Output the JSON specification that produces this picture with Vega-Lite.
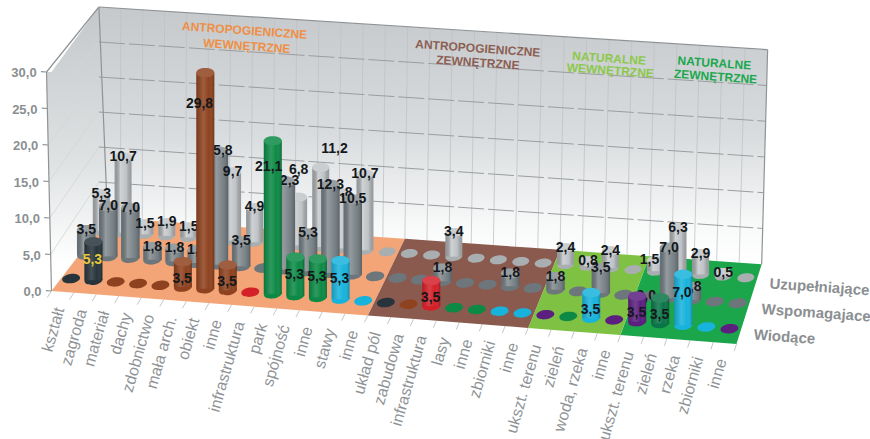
{
"$schema":"https://vega.github.io/schema/vega-lite/v6.json",
"width":870,"height":439,"padding":0,"autosize":"none","background":"#ffffff",
"config":{"view":{"stroke":null},"text":{"font":"Liberation Sans"}},
"datasets":{
"komorki":[
{"kat":"kształt","i":1,"rzad":"Wiodące","wartosc":0,"barwa":"grafit"},{"kat":"kształt","i":1,"rzad":"Wspomagajace","wartosc":3.5,"barwa":"szary"},{"kat":"kształt","i":1,"rzad":"Uzupełniające","wartosc":5.3,"barwa":"jasny"},
{"kat":"zagroda","i":2,"rzad":"Wiodące","wartosc":5.3,"barwa":"grafit"},{"kat":"zagroda","i":2,"rzad":"Wspomagajace","wartosc":7.0,"barwa":"szary"},{"kat":"zagroda","i":2,"rzad":"Uzupełniające","wartosc":10.7,"barwa":"jasny"},
{"kat":"materiał","i":3,"rzad":"Wiodące","wartosc":0,"barwa":"brąz"},{"kat":"materiał","i":3,"rzad":"Wspomagajace","wartosc":7.0,"barwa":"szary"},{"kat":"materiał","i":3,"rzad":"Uzupełniające","wartosc":1.5,"barwa":"jasny"},
{"kat":"dachy","i":4,"rzad":"Wiodące","wartosc":0,"barwa":"brąz"},{"kat":"dachy","i":4,"rzad":"Wspomagajace","wartosc":1.8,"barwa":"szary"},{"kat":"dachy","i":4,"rzad":"Uzupełniające","wartosc":1.9,"barwa":"jasny"},
{"kat":"zdobnictwo","i":5,"rzad":"Wiodące","wartosc":0,"barwa":"brąz"},{"kat":"zdobnictwo","i":5,"rzad":"Wspomagajace","wartosc":1.8,"barwa":"szary"},{"kat":"zdobnictwo","i":5,"rzad":"Uzupełniające","wartosc":1.5,"barwa":"jasny"},
{"kat":"mała arch.","i":6,"rzad":"Wiodące","wartosc":3.5,"barwa":"brąz"},{"kat":"mała arch.","i":6,"rzad":"Wspomagajace","wartosc":1.8,"barwa":"szary"},{"kat":"mała arch.","i":6,"rzad":"Uzupełniające","wartosc":0,"barwa":"jasny"},
{"kat":"obiekt","i":7,"rzad":"Wiodące","wartosc":29.8,"barwa":"brąz"},{"kat":"obiekt","i":7,"rzad":"Wspomagajace","wartosc":15.8,"barwa":"szary"},{"kat":"obiekt","i":7,"rzad":"Uzupełniające","wartosc":9.7,"barwa":"jasny"},
{"kat":"inne","i":8,"rzad":"Wiodące","wartosc":3.5,"barwa":"brąz"},{"kat":"inne","i":8,"rzad":"Wspomagajace","wartosc":3.5,"barwa":"szary"},{"kat":"inne","i":8,"rzad":"Uzupełniające","wartosc":4.9,"barwa":"jasny"},
{"kat":"infrastruktura","i":9,"rzad":"Wiodące","wartosc":0,"barwa":"czerwień"},{"kat":"infrastruktura","i":9,"rzad":"Wspomagajace","wartosc":0,"barwa":"szary"},{"kat":"infrastruktura","i":9,"rzad":"Uzupełniające","wartosc":0,"barwa":"jasny"},
{"kat":"park","i":10,"rzad":"Wiodące","wartosc":21.1,"barwa":"zieleń"},{"kat":"park","i":10,"rzad":"Wspomagajace","wartosc":12.3,"barwa":"szary"},{"kat":"park","i":10,"rzad":"Uzupełniające","wartosc":6.8,"barwa":"jasny"},
{"kat":"spójność","i":11,"rzad":"Wiodące","wartosc":5.3,"barwa":"zieleń"},{"kat":"spójność","i":11,"rzad":"Wspomagajace","wartosc":5.3,"barwa":"szary"},{"kat":"spójność","i":11,"rzad":"Uzupełniające","wartosc":11.2,"barwa":"jasny"},
{"kat":"inne","i":12,"rzad":"Wiodące","wartosc":5.3,"barwa":"zieleń"},{"kat":"inne","i":12,"rzad":"Wspomagajace","wartosc":12.3,"barwa":"szary"},{"kat":"inne","i":12,"rzad":"Uzupełniające","wartosc":7.8,"barwa":"jasny"},
{"kat":"stawy","i":13,"rzad":"Wiodące","wartosc":5.3,"barwa":"błękit"},{"kat":"stawy","i":13,"rzad":"Wspomagajace","wartosc":10.5,"barwa":"szary"},{"kat":"stawy","i":13,"rzad":"Uzupełniające","wartosc":10.7,"barwa":"jasny"},
{"kat":"inne","i":14,"rzad":"Wiodące","wartosc":0,"barwa":"błękit"},{"kat":"inne","i":14,"rzad":"Wspomagajace","wartosc":0,"barwa":"szary"},{"kat":"inne","i":14,"rzad":"Uzupełniające","wartosc":0,"barwa":"jasny"},
{"kat":"układ pól","i":15,"rzad":"Wiodące","wartosc":0,"barwa":"grafit"},{"kat":"układ pól","i":15,"rzad":"Wspomagajace","wartosc":0,"barwa":"szary"},{"kat":"układ pól","i":15,"rzad":"Uzupełniające","wartosc":0,"barwa":"jasny"},
{"kat":"zabudowa","i":16,"rzad":"Wiodące","wartosc":0,"barwa":"brąz"},{"kat":"zabudowa","i":16,"rzad":"Wspomagajace","wartosc":0,"barwa":"szary"},{"kat":"zabudowa","i":16,"rzad":"Uzupełniające","wartosc":0,"barwa":"jasny"},
{"kat":"infrastruktura","i":17,"rzad":"Wiodące","wartosc":3.5,"barwa":"czerwień"},{"kat":"infrastruktura","i":17,"rzad":"Wspomagajace","wartosc":1.8,"barwa":"szary"},{"kat":"infrastruktura","i":17,"rzad":"Uzupełniające","wartosc":3.4,"barwa":"jasny"},
{"kat":"lasy","i":18,"rzad":"Wiodące","wartosc":0,"barwa":"zieleń"},{"kat":"lasy","i":18,"rzad":"Wspomagajace","wartosc":0,"barwa":"szary"},{"kat":"lasy","i":18,"rzad":"Uzupełniające","wartosc":0,"barwa":"jasny"},
{"kat":"inne","i":19,"rzad":"Wiodące","wartosc":0,"barwa":"zieleń"},{"kat":"inne","i":19,"rzad":"Wspomagajace","wartosc":0,"barwa":"szary"},{"kat":"inne","i":19,"rzad":"Uzupełniające","wartosc":0,"barwa":"jasny"},
{"kat":"zbiorniki","i":20,"rzad":"Wiodące","wartosc":0,"barwa":"błękit"},{"kat":"zbiorniki","i":20,"rzad":"Wspomagajace","wartosc":1.8,"barwa":"szary"},{"kat":"zbiorniki","i":20,"rzad":"Uzupełniające","wartosc":0,"barwa":"jasny"},
{"kat":"inne","i":21,"rzad":"Wiodące","wartosc":0,"barwa":"błękit"},{"kat":"inne","i":21,"rzad":"Wspomagajace","wartosc":0,"barwa":"szary"},{"kat":"inne","i":21,"rzad":"Uzupełniające","wartosc":0,"barwa":"jasny"},
{"kat":"ukszt. terenu","i":22,"rzad":"Wiodące","wartosc":0,"barwa":"fiolet"},{"kat":"ukszt. terenu","i":22,"rzad":"Wspomagajace","wartosc":1.8,"barwa":"szary"},{"kat":"ukszt. terenu","i":22,"rzad":"Uzupełniające","wartosc":2.4,"barwa":"jasny"},
{"kat":"zieleń","i":23,"rzad":"Wiodące","wartosc":0,"barwa":"zieleń"},{"kat":"zieleń","i":23,"rzad":"Wspomagajace","wartosc":0,"barwa":"szary"},{"kat":"zieleń","i":23,"rzad":"Uzupełniające","wartosc":0.8,"barwa":"jasny"},
{"kat":"woda, rzeka","i":24,"rzad":"Wiodące","wartosc":3.5,"barwa":"błękit"},{"kat":"woda, rzeka","i":24,"rzad":"Wspomagajace","wartosc":3.5,"barwa":"szary"},{"kat":"woda, rzeka","i":24,"rzad":"Uzupełniające","wartosc":2.4,"barwa":"jasny"},
{"kat":"inne","i":25,"rzad":"Wiodące","wartosc":0,"barwa":"fiolet"},{"kat":"inne","i":25,"rzad":"Wspomagajace","wartosc":0,"barwa":"szary"},{"kat":"inne","i":25,"rzad":"Uzupełniające","wartosc":0,"barwa":"jasny"},
{"kat":"ukszt. terenu","i":26,"rzad":"Wiodące","wartosc":3.5,"barwa":"fiolet"},{"kat":"ukszt. terenu","i":26,"rzad":"Wspomagajace","wartosc":0,"barwa":"szary"},{"kat":"ukszt. terenu","i":26,"rzad":"Uzupełniające","wartosc":1.5,"barwa":"jasny"},
{"kat":"zieleń","i":27,"rzad":"Wiodące","wartosc":3.5,"barwa":"ciemna"},{"kat":"zieleń","i":27,"rzad":"Wspomagajace","wartosc":7.0,"barwa":"szary"},{"kat":"zieleń","i":27,"rzad":"Uzupełniające","wartosc":6.3,"barwa":"jasny"},
{"kat":"rzeka","i":28,"rzad":"Wiodące","wartosc":7.0,"barwa":"błękit"},{"kat":"rzeka","i":28,"rzad":"Wspomagajace","wartosc":1.8,"barwa":"szary"},{"kat":"rzeka","i":28,"rzad":"Uzupełniające","wartosc":2.9,"barwa":"jasny"},
{"kat":"zbiorniki","i":29,"rzad":"Wiodące","wartosc":0,"barwa":"błękit"},{"kat":"zbiorniki","i":29,"rzad":"Wspomagajace","wartosc":0,"barwa":"szary"},{"kat":"zbiorniki","i":29,"rzad":"Uzupełniające","wartosc":0.5,"barwa":"jasny"},
{"kat":"inne","i":30,"rzad":"Wiodące","wartosc":0,"barwa":"fiolet"},{"kat":"inne","i":30,"rzad":"Wspomagajace","wartosc":0,"barwa":"szary"},{"kat":"inne","i":30,"rzad":"Uzupełniające","wartosc":0,"barwa":"jasny"}
],
"sciany":[
{"g":"tylna","u":0,"v":1,"hx":30,"h":30,"h0":30},{"g":"tylna","u":0.4,"v":1,"hx":0,"h":30,"h0":0},{"g":"tylna","u":30,"v":1,"hx":0,"h":30,"h0":0},{"g":"tylna","u":30,"v":1,"hx":30,"h":30,"h0":30},
{"g":"lewa","u":0,"v":0,"hx":30,"h":30,"h0":30},{"g":"lewa","u":0,"v":0,"hx":0,"h":30,"h0":0},{"g":"lewa","u":0,"v":1,"hx":30,"h":30,"h0":0},{"g":"lewa","u":0.4,"v":1,"hx":0,"h":30,"h0":0}
],
"podloga":[
{"sekcja":"dno antropogeniczne wewn.","ut":0,"vt":0,"ub":0,"vb":0},{"sekcja":"dno antropogeniczne wewn.","ut":0.4,"vt":1,"ub":2.5,"vb":0},{"sekcja":"dno antropogeniczne wewn.","ut":12.31,"vt":1,"ub":14,"vb":0},{"sekcja":"dno antropogeniczne wewn.","ut":14,"vt":1,"ub":14,"vb":1},
{"sekcja":"dno antropogeniczne zewn.","ut":14,"vt":0,"ub":14,"vb":0},{"sekcja":"dno antropogeniczne zewn.","ut":14,"vt":1,"ub":15.63,"vb":0},{"sekcja":"dno antropogeniczne zewn.","ut":19.57,"vt":1,"ub":21,"vb":0},{"sekcja":"dno antropogeniczne zewn.","ut":21,"vt":1,"ub":21,"vb":1},
{"sekcja":"dno naturalne wewn.","ut":21,"vt":0,"ub":21,"vb":0},{"sekcja":"dno naturalne wewn.","ut":21,"vt":1,"ub":22.4,"vb":0},{"sekcja":"dno naturalne wewn.","ut":23.7,"vt":1,"ub":25,"vb":0},{"sekcja":"dno naturalne wewn.","ut":25,"vt":1,"ub":25,"vb":1},
{"sekcja":"dno naturalne zewn.","ut":25,"vt":0,"ub":25,"vb":0},{"sekcja":"dno naturalne zewn.","ut":25,"vt":1,"ub":26.26,"vb":0},{"sekcja":"dno naturalne zewn.","ut":28.88,"vt":1,"ub":30,"vb":0},{"sekcja":"dno naturalne zewn.","ut":30,"vt":1,"ub":30,"vb":1}
],
"odcinki":[
{"g":"poziom","u":0,"v":1,"h":5,"u2":30,"v2":1,"h2":5},{"g":"poziom","u":0,"v":1,"h":10,"u2":30,"v2":1,"h2":10},{"g":"poziom","u":0,"v":1,"h":15,"u2":30,"v2":1,"h2":15},{"g":"poziom","u":0,"v":1,"h":20,"u2":30,"v2":1,"h2":20},{"g":"poziom","u":0,"v":1,"h":25,"u2":30,"v2":1,"h2":25},
{"g":"pion","u":1,"v":1,"h":0,"u2":1,"v2":1,"h2":30},{"g":"pion","u":2,"v":1,"h":0,"u2":2,"v2":1,"h2":30},{"g":"pion","u":3,"v":1,"h":0,"u2":3,"v2":1,"h2":30},{"g":"pion","u":4,"v":1,"h":0,"u2":4,"v2":1,"h2":30},{"g":"pion","u":5,"v":1,"h":0,"u2":5,"v2":1,"h2":30},{"g":"pion","u":6,"v":1,"h":0,"u2":6,"v2":1,"h2":30},{"g":"pion","u":7,"v":1,"h":0,"u2":7,"v2":1,"h2":30},{"g":"pion","u":8,"v":1,"h":0,"u2":8,"v2":1,"h2":30},{"g":"pion","u":9,"v":1,"h":0,"u2":9,"v2":1,"h2":30},{"g":"pion","u":10,"v":1,"h":0,"u2":10,"v2":1,"h2":30},{"g":"pion","u":11,"v":1,"h":0,"u2":11,"v2":1,"h2":30},{"g":"pion","u":12,"v":1,"h":0,"u2":12,"v2":1,"h2":30},{"g":"pion","u":13,"v":1,"h":0,"u2":13,"v2":1,"h2":30},{"g":"pion","u":14,"v":1,"h":0,"u2":14,"v2":1,"h2":30},{"g":"pion","u":15,"v":1,"h":0,"u2":15,"v2":1,"h2":30},{"g":"pion","u":16,"v":1,"h":0,"u2":16,"v2":1,"h2":30},{"g":"pion","u":17,"v":1,"h":0,"u2":17,"v2":1,"h2":30},{"g":"pion","u":18,"v":1,"h":0,"u2":18,"v2":1,"h2":30},{"g":"pion","u":19,"v":1,"h":0,"u2":19,"v2":1,"h2":30},{"g":"pion","u":20,"v":1,"h":0,"u2":20,"v2":1,"h2":30},{"g":"pion","u":21,"v":1,"h":0,"u2":21,"v2":1,"h2":30},{"g":"pion","u":22,"v":1,"h":0,"u2":22,"v2":1,"h2":30},{"g":"pion","u":23,"v":1,"h":0,"u2":23,"v2":1,"h2":30},{"g":"pion","u":24,"v":1,"h":0,"u2":24,"v2":1,"h2":30},{"g":"pion","u":25,"v":1,"h":0,"u2":25,"v2":1,"h2":30},{"g":"pion","u":26,"v":1,"h":0,"u2":26,"v2":1,"h2":30},{"g":"pion","u":27,"v":1,"h":0,"u2":27,"v2":1,"h2":30},{"g":"pion","u":28,"v":1,"h":0,"u2":28,"v2":1,"h2":30},{"g":"pion","u":29,"v":1,"h":0,"u2":29,"v2":1,"h2":30},
{"g":"bok","u":0,"v":0,"h":5,"u2":0,"v2":1,"h2":5},{"g":"bok","u":0,"v":0,"h":10,"u2":0,"v2":1,"h2":10},{"g":"bok","u":0,"v":0,"h":15,"u2":0,"v2":1,"h2":15},{"g":"bok","u":0,"v":0,"h":20,"u2":0,"v2":1,"h2":20},{"g":"bok","u":0,"v":0,"h":25,"u2":0,"v2":1,"h2":25},
{"g":"obrys","u":0,"v":1,"h":30,"u2":30,"v2":1,"h2":30},{"g":"obrys","u":30,"v":1,"h":0,"u2":30,"v2":1,"h2":30},{"g":"obrys","u":0,"v":1,"h":30,"u2":0.4,"v2":1,"h2":0},{"g":"obrys","u":0,"v":0,"h":0,"u2":0,"v2":0,"h2":30},{"g":"obrys","u":0,"v":0,"h":30,"u2":0,"v2":1,"h2":30},
{"g":"obrys","u":-0.25,"v":0,"h":0,"u2":0,"v2":0,"h2":0},{"g":"obrys","u":-0.25,"v":0,"h":5,"u2":0,"v2":0,"h2":5},{"g":"obrys","u":-0.25,"v":0,"h":10,"u2":0,"v2":0,"h2":10},{"g":"obrys","u":-0.25,"v":0,"h":15,"u2":0,"v2":0,"h2":15},{"g":"obrys","u":-0.25,"v":0,"h":20,"u2":0,"v2":0,"h2":20},{"g":"obrys","u":-0.25,"v":0,"h":25,"u2":0,"v2":0,"h2":25},{"g":"obrys","u":-0.25,"v":0,"h":30,"u2":0,"v2":0,"h2":30},
{"g":"kreska","u":0,"v":0,"h":0,"u2":0,"v2":-0.09,"h2":0},{"g":"kreska","u":1,"v":0,"h":0,"u2":1,"v2":-0.09,"h2":0},{"g":"kreska","u":2,"v":0,"h":0,"u2":2,"v2":-0.09,"h2":0},{"g":"kreska","u":3,"v":0,"h":0,"u2":3,"v2":-0.09,"h2":0},{"g":"kreska","u":4,"v":0,"h":0,"u2":4,"v2":-0.09,"h2":0},{"g":"kreska","u":5,"v":0,"h":0,"u2":5,"v2":-0.09,"h2":0},{"g":"kreska","u":6,"v":0,"h":0,"u2":6,"v2":-0.09,"h2":0},{"g":"kreska","u":7,"v":0,"h":0,"u2":7,"v2":-0.09,"h2":0},{"g":"kreska","u":8,"v":0,"h":0,"u2":8,"v2":-0.09,"h2":0},{"g":"kreska","u":9,"v":0,"h":0,"u2":9,"v2":-0.09,"h2":0},{"g":"kreska","u":10,"v":0,"h":0,"u2":10,"v2":-0.09,"h2":0},{"g":"kreska","u":11,"v":0,"h":0,"u2":11,"v2":-0.09,"h2":0},{"g":"kreska","u":12,"v":0,"h":0,"u2":12,"v2":-0.09,"h2":0},{"g":"kreska","u":13,"v":0,"h":0,"u2":13,"v2":-0.09,"h2":0},{"g":"kreska","u":14,"v":0,"h":0,"u2":14,"v2":-0.09,"h2":0},{"g":"kreska","u":15,"v":0,"h":0,"u2":15,"v2":-0.09,"h2":0},{"g":"kreska","u":16,"v":0,"h":0,"u2":16,"v2":-0.09,"h2":0},{"g":"kreska","u":17,"v":0,"h":0,"u2":17,"v2":-0.09,"h2":0},{"g":"kreska","u":18,"v":0,"h":0,"u2":18,"v2":-0.09,"h2":0},{"g":"kreska","u":19,"v":0,"h":0,"u2":19,"v2":-0.09,"h2":0},{"g":"kreska","u":20,"v":0,"h":0,"u2":20,"v2":-0.09,"h2":0},{"g":"kreska","u":21,"v":0,"h":0,"u2":21,"v2":-0.09,"h2":0},{"g":"kreska","u":22,"v":0,"h":0,"u2":22,"v2":-0.09,"h2":0},{"g":"kreska","u":23,"v":0,"h":0,"u2":23,"v2":-0.09,"h2":0},{"g":"kreska","u":24,"v":0,"h":0,"u2":24,"v2":-0.09,"h2":0},{"g":"kreska","u":25,"v":0,"h":0,"u2":25,"v2":-0.09,"h2":0},{"g":"kreska","u":26,"v":0,"h":0,"u2":26,"v2":-0.09,"h2":0},{"g":"kreska","u":27,"v":0,"h":0,"u2":27,"v2":-0.09,"h2":0},{"g":"kreska","u":28,"v":0,"h":0,"u2":28,"v2":-0.09,"h2":0},{"g":"kreska","u":29,"v":0,"h":0,"u2":29,"v2":-0.09,"h2":0},{"g":"kreska","u":30,"v":0,"h":0,"u2":30,"v2":-0.09,"h2":0}
],
"skala":[{"h":0,"t":"0,0"},{"h":5,"t":"5,0"},{"h":10,"t":"10,0"},{"h":15,"t":"15,0"},{"h":20,"t":"20,0"},{"h":25,"t":"25,0"},{"h":30,"t":"30,0"}],
"rzedy":[{"t":"Wiodące","v":0.18},{"t":"Wspomagajace","v":0.5},{"t":"Uzupełniające","v":0.82}],
"tytuly":[
{"t":"ANTROPOGIENICZNE","u":6.7,"h":28,"g":"tytuł 1"},{"t":"WEWNĘTRZNE","u":6.8,"h":25.8,"g":"tytuł 1"},
{"t":"ANTROPOGIENICZNE","u":17.3,"h":27.6,"g":"tytuł 2"},{"t":"ZEWNĘTRZNE","u":17.3,"h":25.6,"g":"tytuł 2"},
{"t":"NATURALNE","u":23.2,"h":27.4,"g":"tytuł 3"},{"t":"WEWNĘTRZNE","u":23.25,"h":25.7,"g":"tytuł 3"},
{"t":"NATURALNE","u":27.9,"h":27.7,"g":"tytuł 4"},{"t":"ZEWNĘTRZNE","u":27.95,"h":25.8,"g":"tytuł 4"}
]
},
"encoding":{
"x":{"field":"px","type":"quantitative","scale":{"domain":[0,870],"range":[0,870]},"axis":null},
"y":{"field":"py","type":"quantitative","stack":null,"scale":{"domain":[0,439],"range":[0,439]},"axis":null}
},
"layer":[
{"data":{"name":"sciany"},
 "transform":[
 {"calculate":"47+22.65*datum.u+0.015*datum.u*datum.u","as":"xF"},
 {"calculate":"95+21.9*datum.u+0.015*datum.u*datum.u","as":"xB"},
 {"calculate":"datum.xF+(datum.xB-datum.xF)*datum.v+(datum.hx/30)*(-5*(1-datum.v)+0.2*datum.u*datum.v)","as":"px"},
 {"calculate":"(291+0.0765*(datum.xF-47))*(1-datum.v)+(217+0.0704*(datum.xB-95))*datum.v","as":"yb"},
 {"calculate":"datum.yb-datum.h*(7.3-0.3*datum.v+0.005*datum.u*datum.v)","as":"py"},
 {"calculate":"datum.yb-datum.h0*(7.3-0.3*datum.v+0.005*datum.u*datum.v)","as":"py0"}
 ],
 "layer":[
 {"transform":[{"filter":"datum.g==='lewa'"}],
  "mark":{"type":"area","color":{"x1":0,"y1":0,"x2":0,"y2":1,"gradient":"linear","stops":[{"offset":0,"color":"#c4c8ca"},{"offset":0.55,"color":"#dfe2e3"},{"offset":0.9,"color":"#ffffff"},{"offset":1,"color":"#ffffff"}]}},
  "encoding":{"y2":{"field":"py0"}}},
 {"transform":[{"filter":"datum.g==='tylna'"}],
  "mark":{"type":"area","color":{"x1":0,"y1":0,"x2":0,"y2":1,"gradient":"linear","stops":[{"offset":0,"color":"#c5c9cb"},{"offset":0.5,"color":"#d9dcde"},{"offset":0.85,"color":"#f8f9f9"},{"offset":1,"color":"#ffffff"}]}},
  "encoding":{"y2":{"field":"py0"}}}
 ]},
{"data":{"name":"odcinki"},
 "transform":[
 {"calculate":"47+22.65*datum.u+0.015*datum.u*datum.u","as":"xF"},
 {"calculate":"95+21.9*datum.u+0.015*datum.u*datum.u","as":"xB"},
 {"calculate":"datum.xF+(datum.xB-datum.xF)*datum.v+(datum.h/30)*(-5*(1-datum.v)+0.2*datum.u*datum.v)","as":"px"},
 {"calculate":"(291+0.0765*(datum.xF-47))*(1-datum.v)+(217+0.0704*(datum.xB-95))*datum.v-datum.h*(7.3-0.3*datum.v+0.005*datum.u*datum.v)","as":"py"},
 {"calculate":"47+22.65*datum.u2+0.015*datum.u2*datum.u2","as":"xF2"},
 {"calculate":"95+21.9*datum.u2+0.015*datum.u2*datum.u2","as":"xB2"},
 {"calculate":"datum.xF2+(datum.xB2-datum.xF2)*datum.v2+(datum.h2/30)*(-5*(1-datum.v2)+0.2*datum.u2*datum.v2)","as":"px2"},
 {"calculate":"(291+0.0765*(datum.xF2-47))*(1-datum.v2)+(217+0.0704*(datum.xB2-95))*datum.v2-datum.h2*(7.3-0.3*datum.v2+0.005*datum.u2*datum.v2)","as":"py2"}
 ],
 "encoding":{"x2":{"field":"px2"},"y2":{"field":"py2"}},
 "layer":[
 {"transform":[{"filter":"datum.g==='pion'"}],"mark":{"type":"rule","color":"#bfc3c5","strokeWidth":0.8}},
 {"transform":[{"filter":"datum.g==='bok'"}],"mark":{"type":"rule","color":"#d2d5d6","strokeWidth":0.8}},
 {"transform":[{"filter":"datum.g==='poziom'"}],"mark":{"type":"rule","color":"#9a9ea0","strokeWidth":1,"strokeDash":[26,4]}},
 {"transform":[{"filter":"datum.g==='obrys'"}],"mark":{"type":"rule","color":"#8f9395","strokeWidth":1.2}},
 {"transform":[{"filter":"datum.g==='kreska'"}],"mark":{"type":"rule","color":"#c4c7c9","strokeWidth":1}}
 ]},
{"data":{"name":"podloga"},
 "transform":[
 {"calculate":"47+22.65*datum.ut+0.015*datum.ut*datum.ut","as":"xF"},
 {"calculate":"95+21.9*datum.ut+0.015*datum.ut*datum.ut","as":"xB"},
 {"calculate":"datum.xF+(datum.xB-datum.xF)*datum.vt","as":"px"},
 {"calculate":"(291+0.0765*(datum.xF-47))*(1-datum.vt)+(217+0.0704*(datum.xB-95))*datum.vt","as":"py"},
 {"calculate":"47+22.65*datum.ub+0.015*datum.ub*datum.ub","as":"xFb"},
 {"calculate":"95+21.9*datum.ub+0.015*datum.ub*datum.ub","as":"xBb"},
 {"calculate":"(291+0.0765*(datum.xFb-47))*(1-datum.vb)+(217+0.0704*(datum.xBb-95))*datum.vb","as":"py0"}
 ],
 "mark":{"type":"area"},
 "encoding":{"y2":{"field":"py0"},
  "color":{"field":"sekcja","type":"nominal","legend":null,"scale":{
   "domain":["grafit","brąz","czerwień","zieleń","błękit","fiolet","ciemna","szary","jasny","dno antropogeniczne wewn.","dno antropogeniczne zewn.","dno naturalne wewn.","dno naturalne zewn.","tytuł 1","tytuł 2","tytuł 3","tytuł 4"],
   "range":["#27343b","#8f421f","#d42028","#0c8a45","#17b3dc","#5c1f80","#0a7548","#6c767b","#a9aeb1","#f3a577","#8b5a4e","#7fc143","#1ca64b","#ef8f45","#8c5f54","#8cc84b","#1ba84f"]}}}},
{"data":{"name":"komorki"},
 "transform":[
 {"calculate":"datum.i-0.5","as":"u"},
 {"calculate":"datum.rzad==='Wiodące'?0.18:(datum.rzad==='Wspomagajace'?0.5:0.82)","as":"v"},
 {"calculate":"47+22.65*datum.u+0.015*datum.u*datum.u","as":"xF"},
 {"calculate":"95+21.9*datum.u+0.015*datum.u*datum.u","as":"xB"},
 {"calculate":"datum.xF+(datum.xB-datum.xF)*datum.v","as":"px"},
 {"calculate":"(291+0.0765*(datum.xF-47))*(1-datum.v)+(217+0.0704*(datum.xB-95))*datum.v","as":"py0"},
 {"calculate":"datum.py0-datum.wartosc*(7.3-0.3*datum.v+0.005*datum.u*datum.v)","as":"py"},
 {"calculate":"datum.rzad==='Wiodące'?datum.px-0.027*(datum.py0-datum.py):(datum.rzad==='Uzupełniające'&&datum.i==11?datum.px+14:(datum.rzad==='Uzupełniające'&&datum.i==26?datum.px-6:datum.px))","as":"lx"},
 {"calculate":"datum.rzad==='Wiodące'?datum.py+15+0.076*(datum.py0-datum.py):(datum.rzad==='Uzupełniające'&&datum.i==10?datum.py-27:(datum.rzad==='Uzupełniające'&&datum.i==11?datum.py-19:datum.py))","as":"ly"},
 {"calculate":"replace(format(datum.wartosc,'.1f'),'.',',')","as":"etykieta"}
 ],
 "layer":[
 {"transform":[{"filter":"datum.rzad==='Uzupełniające'"}],
  "layer":[
  {"mark":{"type":"point","filled":true,"opacity":1,"size":289,"angle":-7,"shape":"M-1,0C-1,-0.29 -0.55,-0.52 0,-0.52C0.55,-0.52 1,-0.29 1,0C1,0.29 0.55,0.52 0,0.52C-0.55,0.52 -1,0.29 -1,0Z"},
   "encoding":{"y":{"field":"py0","type":"quantitative"},"color":{"field":"barwa","type":"nominal","legend":null}}},
  {"transform":[{"filter":"datum.wartosc>0"}],"layer":[
   {"mark":{"type":"bar","orient":"vertical","width":17},"encoding":{"y2":{"field":"py0"},"color":{"field":"barwa","type":"nominal","legend":null}}},
   {"mark":{"type":"bar","orient":"vertical","width":17,"color":{"x1":0,"y1":0,"x2":1,"y2":0,"gradient":"linear","stops":[{"offset":0,"color":"rgba(0,0,0,0.1)"},{"offset":0.35,"color":"rgba(255,255,255,0.45)"},{"offset":0.7,"color":"rgba(255,255,255,0.25)"},{"offset":1,"color":"rgba(0,0,0,0.1)"}]}},"encoding":{"y2":{"field":"py0"}}},
   {"mark":{"type":"point","filled":true,"opacity":1,"size":289,"shape":"M-1,0C-1,-0.29 -0.55,-0.52 0,-0.52C0.55,-0.52 1,-0.29 1,0C1,0.29 0.55,0.52 0,0.52C-0.55,0.52 -1,0.29 -1,0Z"},"encoding":{"color":{"field":"barwa","type":"nominal","legend":null}}},
   {"mark":{"type":"point","filled":true,"opacity":0.4,"color":"#ffffff","size":289,"shape":"M-1,0C-1,-0.29 -0.55,-0.52 0,-0.52C0.55,-0.52 1,-0.29 1,0C1,0.29 0.55,0.52 0,0.52C-0.55,0.52 -1,0.29 -1,0Z"}}
  ]},
  {"transform":[{"filter":"datum.i==12"}],"mark":{"type":"text","fontSize":14,"fontWeight":"bold","color":"#14181b"},"encoding":{"x":{"field":"lx","type":"quantitative"},"y":{"field":"ly","type":"quantitative"},"text":{"field":"etykieta"}}}
  ]},
 {"transform":[{"filter":"datum.rzad==='Wspomagajace'"}],
  "layer":[
  {"mark":{"type":"point","filled":true,"opacity":1,"size":342,"angle":-7,"shape":"M-1,0C-1,-0.29 -0.55,-0.52 0,-0.52C0.55,-0.52 1,-0.29 1,0C1,0.29 0.55,0.52 0,0.52C-0.55,0.52 -1,0.29 -1,0Z"},
   "encoding":{"y":{"field":"py0","type":"quantitative"},"color":{"field":"barwa","type":"nominal","legend":null}}},
  {"transform":[{"filter":"datum.wartosc>0"}],"layer":[
   {"mark":{"type":"bar","orient":"vertical","width":18.5},"encoding":{"y2":{"field":"py0"},"color":{"field":"barwa","type":"nominal","legend":null}}},
   {"mark":{"type":"bar","orient":"vertical","width":18.5,"color":{"x1":0,"y1":0,"x2":1,"y2":0,"gradient":"linear","stops":[{"offset":0,"color":"rgba(0,0,0,0.05)"},{"offset":0.35,"color":"rgba(255,255,255,0.28)"},{"offset":0.7,"color":"rgba(255,255,255,0.1)"},{"offset":1,"color":"rgba(0,0,0,0.18)"}]}},"encoding":{"y2":{"field":"py0"}}},
   {"mark":{"type":"point","filled":true,"opacity":1,"size":342,"shape":"M-1,0C-1,-0.29 -0.55,-0.52 0,-0.52C0.55,-0.52 1,-0.29 1,0C1,0.29 0.55,0.52 0,0.52C-0.55,0.52 -1,0.29 -1,0Z"},"encoding":{"color":{"field":"barwa","type":"nominal","legend":null}}},
   {"mark":{"type":"point","filled":true,"opacity":0.3,"color":"#ffffff","size":342,"shape":"M-1,0C-1,-0.29 -0.55,-0.52 0,-0.52C0.55,-0.52 1,-0.29 1,0C1,0.29 0.55,0.52 0,0.52C-0.55,0.52 -1,0.29 -1,0Z"}}
  ]}
  ]},
 {"transform":[{"filter":"datum.rzad==='Uzupełniające'&&datum.wartosc>0&&datum.i!=12"}],
  "mark":{"type":"text","fontSize":14,"fontWeight":"bold","color":"#14181b"},"encoding":{"x":{"field":"lx","type":"quantitative"},"y":{"field":"ly","type":"quantitative"},"text":{"field":"etykieta"}}},
 {"transform":[{"filter":"datum.rzad==='Wspomagajace'&&(datum.wartosc>0||datum.i==26)"}],
  "mark":{"type":"text","fontSize":14,"fontWeight":"bold","color":"#14181b"},"encoding":{"x":{"field":"lx","type":"quantitative"},"y":{"field":"ly","type":"quantitative"},"text":{"field":"etykieta"}}},
 {"transform":[{"filter":"datum.rzad==='Wiodące'"}],
  "layer":[
  {"mark":{"type":"point","filled":true,"opacity":1,"size":324,"angle":-7,"shape":"M-1,0C-1,-0.29 -0.55,-0.52 0,-0.52C0.55,-0.52 1,-0.29 1,0C1,0.29 0.55,0.52 0,0.52C-0.55,0.52 -1,0.29 -1,0Z"},
   "encoding":{"y":{"field":"py0","type":"quantitative"},"color":{"field":"barwa","type":"nominal","legend":null}}},
  {"transform":[{"filter":"datum.wartosc>0"}],"layer":[
   {"mark":{"type":"bar","orient":"vertical","width":18},"encoding":{"y2":{"field":"py0"},"color":{"field":"barwa","type":"nominal","legend":null}}},
   {"mark":{"type":"bar","orient":"vertical","width":18,"color":{"x1":0,"y1":0,"x2":1,"y2":0,"gradient":"linear","stops":[{"offset":0,"color":"rgba(0,0,0,0.15)"},{"offset":0.4,"color":"rgba(255,255,255,0.14)"},{"offset":0.7,"color":"rgba(255,255,255,0)"},{"offset":1,"color":"rgba(0,0,0,0.22)"}]}},"encoding":{"y2":{"field":"py0"}}},
   {"mark":{"type":"point","filled":true,"opacity":1,"size":324,"shape":"M-1,0C-1,-0.29 -0.55,-0.52 0,-0.52C0.55,-0.52 1,-0.29 1,0C1,0.29 0.55,0.52 0,0.52C-0.55,0.52 -1,0.29 -1,0Z"},"encoding":{"color":{"field":"barwa","type":"nominal","legend":null}}},
   {"mark":{"type":"point","filled":true,"opacity":0.15,"color":"#ffffff","size":324,"shape":"M-1,0C-1,-0.29 -0.55,-0.52 0,-0.52C0.55,-0.52 1,-0.29 1,0C1,0.29 0.55,0.52 0,0.52C-0.55,0.52 -1,0.29 -1,0Z"}},
   {"mark":{"type":"text","fontSize":14,"fontWeight":"bold"},"encoding":{"x":{"field":"lx","type":"quantitative"},"y":{"field":"ly","type":"quantitative"},"text":{"field":"etykieta"},"color":{"condition":{"test":"datum.i==2","value":"#e6c93c"},"value":"#14181b"}}}
  ]},
  {"mark":{"type":"text","fontSize":16,"align":"right","baseline":"middle","angle":-74,"color":"#8f9396"},
   "transform":[{"calculate":"datum.xF-3","as":"kx"},{"calculate":"(291+0.0765*(datum.xF-47))+16","as":"ky"}],
   "encoding":{"x":{"field":"kx","type":"quantitative"},"y":{"field":"ky","type":"quantitative"},"text":{"field":"kat"}}}
  ]}
 ]},
{"data":{"name":"skala"},
 "transform":[
 {"calculate":"42+(30-datum.h)/6-10","as":"px"},
 {"calculate":"291-datum.h*7.3+1","as":"py"}
 ],
 "mark":{"type":"text","align":"right","baseline":"middle","fontSize":13,"fontWeight":"bold","color":"#8b8f92"},
 "encoding":{"text":{"field":"t"}}},
{"data":{"name":"rzedy"},
 "transform":[
 {"calculate":"740+(765-740)*datum.v+13","as":"px"},
 {"calculate":"344+(264-344)*datum.v+5","as":"py"}
 ],
 "mark":{"type":"text","align":"left","baseline":"middle","angle":4,"fontSize":15,"fontWeight":"bold","color":"#8b8f92"},
 "encoding":{"text":{"field":"t"}}},
{"data":{"name":"tytuly"},
 "transform":[
 {"calculate":"95+21.9*datum.u+0.015*datum.u*datum.u","as":"px"},
 {"calculate":"217+0.0704*(datum.px-95)-datum.h*(7+0.005*datum.u)","as":"py"}
 ],
 "mark":{"type":"text","align":"center","baseline":"middle","angle":4,"fontSize":12,"fontWeight":"bold"},
 "encoding":{"text":{"field":"t"},"color":{"field":"g","type":"nominal","legend":null}}}
]
}
